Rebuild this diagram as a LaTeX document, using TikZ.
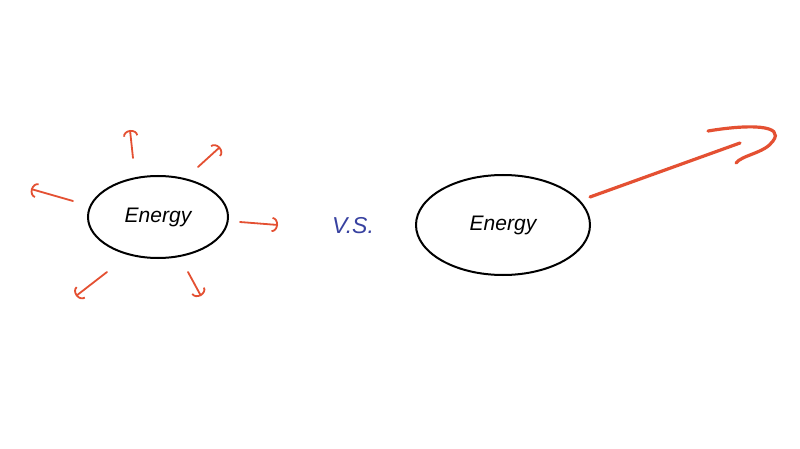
\documentclass[tikz,border=0pt]{standalone}
\usepackage{fontspec}
\setmainfont{Liberation Sans}
\usetikzlibrary{shapes.geometric,arrows.meta}
\definecolor{ered}{RGB}{228,80,50}
\definecolor{vsblue}{RGB}{55,65,160}
\tikzset{
  blob/.style={draw=black, line width=2pt, ellipse, font=\itshape\fontsize{21}{21}\selectfont},
  ray/.style={draw=ered, line width=1.8pt, line cap=round, -{Arc Barb[length=6pt,width=15pt,line width=1.8pt]}},
  bigray/.style={draw=ered, line width=3.2pt, line cap=round}
}
\begin{document}
\begin{tikzpicture}[x=1pt,y=-1pt]
\useasboundingbox[fill=white] (0,0) rectangle (800,449);
\node[blob, minimum width=140, minimum height=82] (e1) at (158,217) {Energy};
\node[blob, minimum width=174, minimum height=100] (e2) at (503,225) {Energy};
\node[text=vsblue, font=\itshape\fontsize{23}{23}\selectfont] (vs) at (353,226) {V.S.};
% small rays
\coordinate (a1s) at (133,158); \coordinate (a1e) at (130,130);
\coordinate (a2s) at (198,167); \coordinate (a2e) at (220,147);
\coordinate (a3s) at (73,201);  \coordinate (a3e) at (31,189);
\coordinate (a4s) at (240,222); \coordinate (a4e) at (278,225);
\coordinate (a5s) at (188,272); \coordinate (a5e) at (201,296);
\coordinate (a6s) at (107,272); \coordinate (a6e) at (76,296);
\foreach \i in {1,...,6} \draw[ray] (a\i s) -- (a\i e);
% big ray
\coordinate (bs) at (590,197);
\coordinate (be) at (740,143);
\coordinate (h1) at (708,131);
\coordinate (h2) at (773,141);
\coordinate (h3) at (736,163);
\draw[bigray] (bs) -- (be);
\draw[bigray] (h1) .. controls (750,124) and (785,125) .. (h2) .. controls (765,153) and (742,155) .. (h3);
\end{tikzpicture}
\end{document}
